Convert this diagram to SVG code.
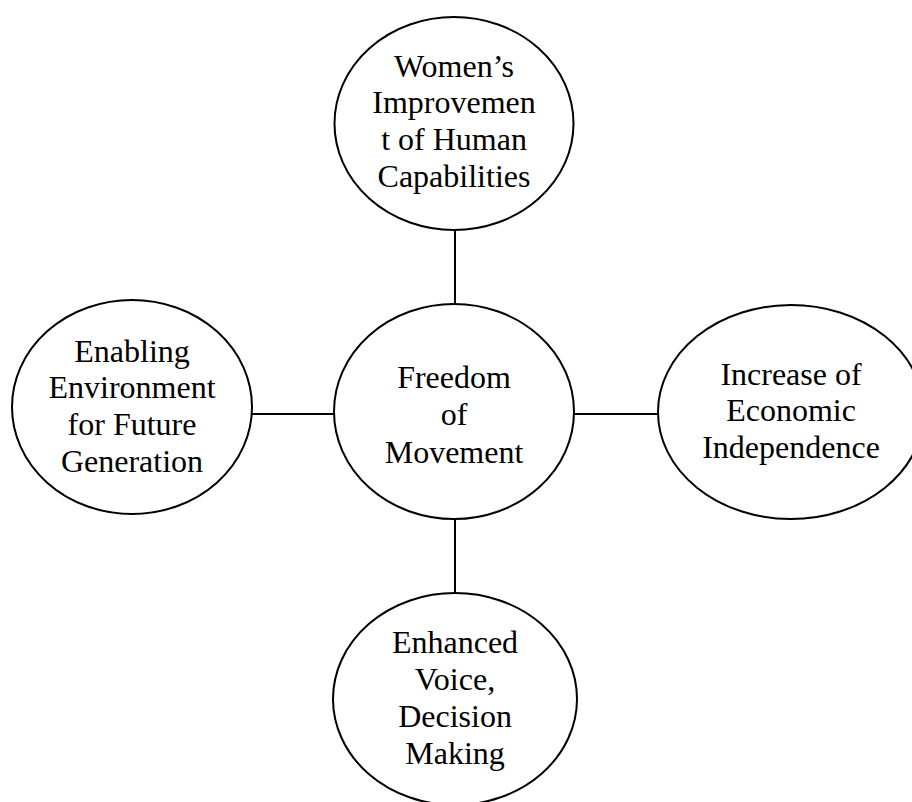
<svg xmlns="http://www.w3.org/2000/svg" width="912" height="802" viewBox="0 0 912 802">
<style>
.node ellipse{fill:#fff;stroke:#000;stroke-width:2}
.conn line{stroke:#000;stroke-width:2}
text{font-family:"Liberation Serif","Times New Roman",serif;font-size:32px;fill:#000;text-anchor:middle}
</style>
<rect width="912" height="802" fill="#fff"/>
<g id="connectors" class="conn">
<line x1="455" y1="230" x2="455" y2="304"/>
<line x1="455" y1="519" x2="455" y2="593"/>
<line x1="252" y1="414" x2="334" y2="414"/>
<line x1="574" y1="414" x2="658" y2="414"/>
</g>
<g id="node-top" class="node">
<ellipse cx="454" cy="123.5" rx="119.5" ry="106.5"/>
<text x="454" y="77">Women’s</text>
<text x="454" y="113">Improvemen</text>
<text x="454" y="150">t of Human</text>
<text x="454" y="187">Capabilities</text>
</g>
<g id="node-center" class="node">
<ellipse cx="454" cy="411.5" rx="120" ry="107.5"/>
<text x="454" y="388">Freedom</text>
<text x="454" y="425">of</text>
<text x="454" y="463">Movement</text>
</g>
<g id="node-left" class="node">
<ellipse cx="132" cy="407" rx="120" ry="107"/>
<text x="132" y="362">Enabling</text>
<text x="132" y="398">Environment</text>
<text x="132" y="435">for Future</text>
<text x="132" y="472">Generation</text>
</g>
<g id="node-right" class="node">
<ellipse cx="791" cy="412" rx="133" ry="107"/>
<text x="791" y="385">Increase of</text>
<text x="791" y="421">Economic</text>
<text x="791" y="458">Independence</text>
</g>
<g id="node-bottom" class="node">
<ellipse cx="455" cy="699" rx="122" ry="106"/>
<text x="455" y="653">Enhanced</text>
<text x="455" y="690">Voice,</text>
<text x="455" y="727">Decision</text>
<text x="455" y="764">Making</text>
</g>
</svg>
